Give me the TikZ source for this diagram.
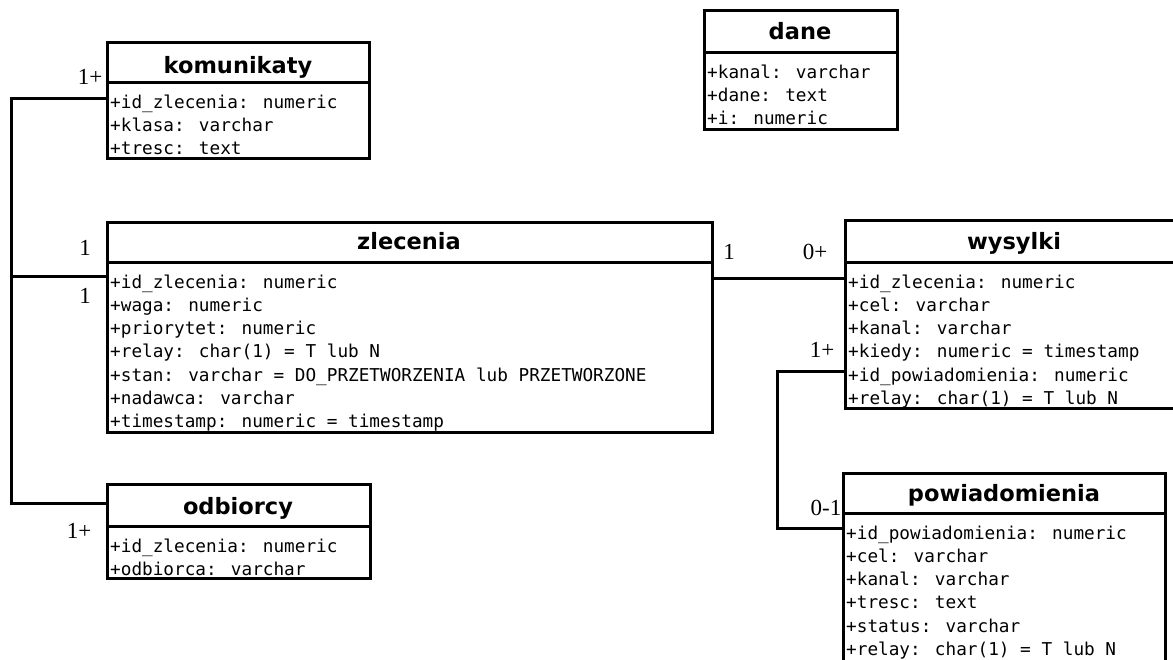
\documentclass[tikz,border=0pt]{standalone}
\usepackage{fontspec}
\setmainfont{Liberation Serif}
\newfontfamily\hdfont{DejaVu Sans}
\newfontfamily\attrfont{DejaVu Sans Mono}
\tikzset{
  tbl/.style={draw, line width=3pt, inner sep=0pt, outer sep=0pt, anchor=north west},
  sepline/.style={line width=3pt},
  ttl/.style={font=\hdfont\bfseries\fontsize{22.5}{26}\selectfont, anchor=base, inner sep=0pt},
  attr/.style={font=\attrfont\fontsize{17.7}{23.3}\selectfont, anchor=base west, inner sep=0pt},
  card/.style={font=\fontsize{23}{26}\selectfont, inner sep=0pt},
  conn/.style={line width=3pt},
}
\begin{document}
\begin{tikzpicture}[x=1pt,y=-1pt]
\useasboundingbox (0,0) rectangle (1173,659);
\begin{scope}
\clip (0,0) rectangle (1173,659);

% komunikaty
\node[tbl, minimum width=262pt, minimum height=116pt] (km) at (107,42) {};
\draw[sepline] ([yshift=-40pt]km.north west) -- ([yshift=-40pt]km.north east);
\node[ttl] (km-t) at (238,73) {komunikaty};
\foreach \t [count=\i] in {{+id\_zlecenia: numeric},{+klasa: varchar},{+tresc: text}}
  \node[attr] (km-\i) at ({110},{108+23.3*(\i-1)}) {\t};

% dane
\node[tbl, minimum width=193pt, minimum height=119pt] (dn) at (704,10) {};
\draw[sepline] ([yshift=-42pt]dn.north west) -- ([yshift=-42pt]dn.north east);
\node[ttl] (dn-t) at (800,39) {dane};
\foreach \t [count=\i] in {{+kanal: varchar},{+dane: text},{+i: numeric}}
  \node[attr] (dn-\i) at ({707},{78+23.3*(\i-1)}) {\t};

% zlecenia
\node[tbl, minimum width=605pt, minimum height=210pt] (zl) at (107,222) {};
\draw[sepline] ([yshift=-40pt]zl.north west) -- ([yshift=-40pt]zl.north east);
\node[ttl] (zl-t) at (409,249) {zlecenia};
\foreach \t [count=\i] in {{+id\_zlecenia: numeric},{+waga: numeric},{+priorytet: numeric},{+relay: char(1) = T lub N},{+stan: varchar = DO\_PRZETWORZENIA lub PRZETWORZONE},{+nadawca: varchar},{+timestamp: numeric = timestamp}}
  \node[attr] (zl-\i) at ({110},{288+23.3*(\i-1)}) {\t};

% wysylki
\node[tbl, minimum width=345pt, minimum height=188pt] (ws) at (845,220) {};
\draw[sepline] ([yshift=-42pt]ws.north west) -- ([yshift=-42pt]ws.north east);
\node[ttl] (ws-t) at (1014,249) {wysylki};
\foreach \t [count=\i] in {{+id\_zlecenia: numeric},{+cel: varchar},{+kanal: varchar},{+kiedy: numeric = timestamp},{+id\_powiadomienia: numeric},{+relay: char(1) = T lub N}}
  \node[attr] (ws-\i) at ({848},{288+23.3*(\i-1)}) {\t};

% odbiorcy
\node[tbl, minimum width=263pt, minimum height=94pt] (od) at (107,484) {};
\draw[sepline] ([yshift=-42pt]od.north west) -- ([yshift=-42pt]od.north east);
\node[ttl] (od-t) at (238,514) {odbiorcy};
\foreach \t [count=\i] in {{+id\_zlecenia: numeric},{+odbiorca: varchar}}
  \node[attr] (od-\i) at ({110},{552+23.3*(\i-1)}) {\t};

% powiadomienia
\node[tbl, minimum width=322pt, minimum height=192pt] (pw) at (843,473) {};
\draw[sepline] ([yshift=-40pt]pw.north west) -- ([yshift=-40pt]pw.north east);
\node[ttl] (pw-t) at (1004,501) {powiadomienia};
\foreach \t [count=\i] in {{+id\_powiadomienia: numeric},{+cel: varchar},{+kanal: varchar},{+tresc: text},{+status: varchar},{+relay: char(1) = T lub N}}
  \node[attr] (pw-\i) at ({846},{539+23.3*(\i-1)}) {\t};

% connectors
\coordinate (la) at (11,98);
\coordinate (lb) at (11,276);
\coordinate (lc) at (11,503);
\draw[conn] (km.west |- la) -- (la) -- (lc) -- (od.west |- lc);
\draw[conn] (lb) -- (zl.west |- lb);
\coordinate (ma) at (712,278);
\draw[conn] (zl.east |- ma) -- (ws.west |- ma);
\coordinate (ra) at (777,371);
\coordinate (rb) at (777,528);
\draw[conn] (ws.west |- ra) -- (ra) -- (rb) -- (pw.west |- rb);

% cardinalities
\node[card] (c1) at (90,77) {1+};
\node[card] (c2) at (85,248) {1};
\node[card] (c3) at (85,296) {1};
\node[card] (c4) at (79,531) {1+};
\node[card] (c5) at (729,252) {1};
\node[card] (c6) at (815,252) {0+};
\node[card] (c7) at (822,350) {1+};
\node[card] (c8) at (826,508) {0-1};
\end{scope}
\end{tikzpicture}
\end{document}
